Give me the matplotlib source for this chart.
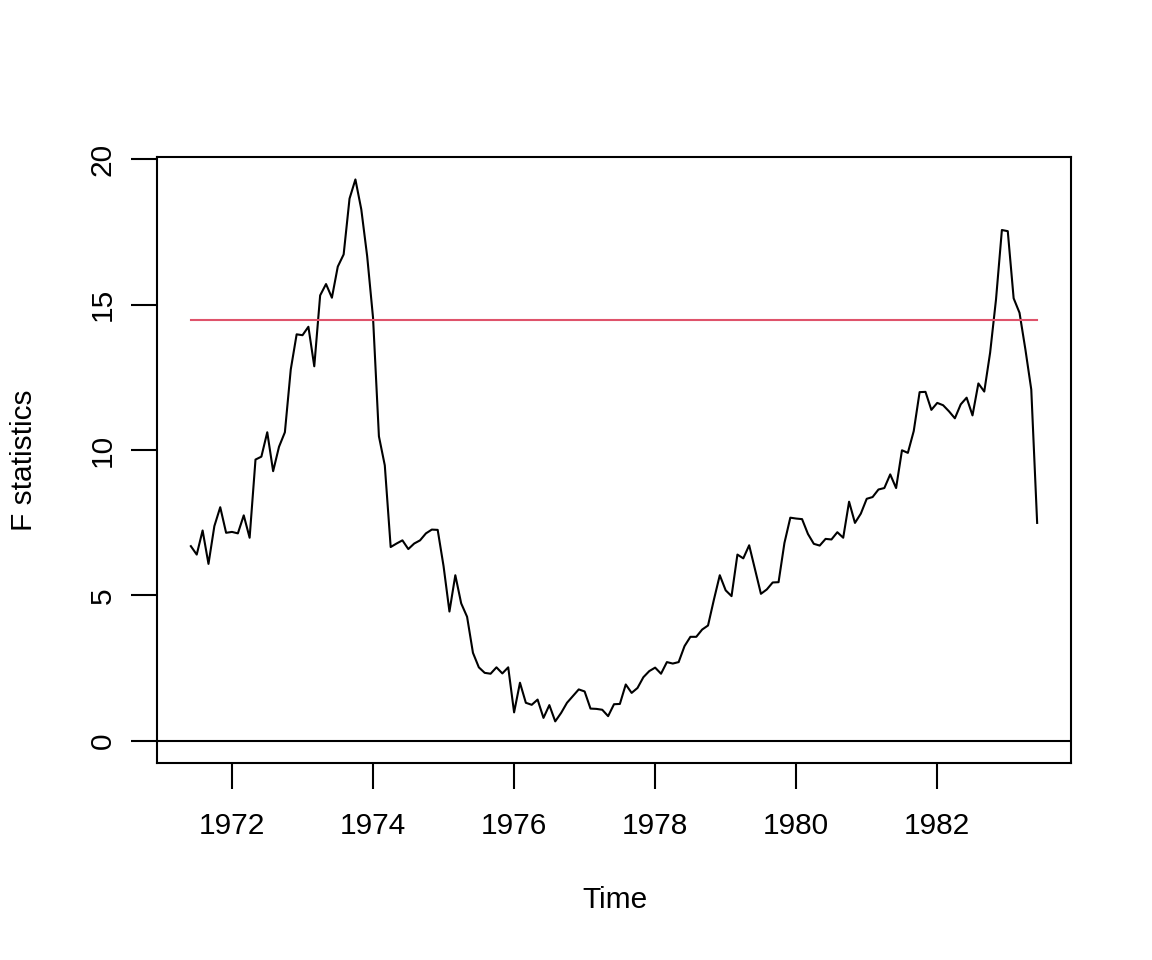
import numpy as np
import matplotlib
matplotlib.use("Agg")
import matplotlib.pyplot as plt

# monthly F statistics, starting June 1971
start_year = 1971 + 5 / 12
fstats = [
    6.69, 6.40, 7.23, 6.08, 7.38, 8.03, 7.15, 7.18, 7.13, 7.75, 6.98, 9.67,
    9.77, 10.61, 9.27, 10.11, 10.61, 12.77, 13.98, 13.95, 14.24, 12.88, 15.32, 15.71,
    15.24, 16.31, 16.73, 18.65, 19.31, 18.28, 16.67, 14.55, 10.47, 9.47, 6.66, 6.78,
    6.89, 6.59, 6.78, 6.89, 7.13, 7.26, 7.25, 6.00, 4.44, 5.69, 4.72, 4.26,
    3.02, 2.52, 2.33, 2.30, 2.52, 2.31, 2.52, 0.97, 1.99, 1.30, 1.23, 1.41,
    0.78, 1.22, 0.66, 0.95, 1.30, 1.53, 1.76, 1.69, 1.10, 1.09, 1.06, 0.84,
    1.25, 1.26, 1.93, 1.64, 1.81, 2.18, 2.39, 2.51, 2.30, 2.70, 2.65, 2.70,
    3.25, 3.57, 3.57, 3.82, 3.96, 4.85, 5.69, 5.17, 4.97, 6.40, 6.27, 6.72,
    5.89, 5.05, 5.20, 5.44, 5.45, 6.80, 7.67, 7.64, 7.62, 7.11, 6.77, 6.71,
    6.94, 6.92, 7.17, 6.98, 8.22, 7.49, 7.81, 8.32, 8.38, 8.64, 8.69, 9.16,
    8.69, 9.99, 9.90, 10.65, 11.99, 12.00, 11.38, 11.62, 11.54, 11.33, 11.09, 11.57,
    11.80, 11.19, 12.29, 12.01, 13.35, 15.18, 17.57, 17.53, 15.22, 14.72, 13.46, 12.08,
    7.49,
]
crit_value = 14.47
x_ticks = [1972, 1974, 1976, 1978, 1980, 1982]
y_ticks = [0, 5, 10, 15, 20]

plt.rcParams['font.family'] = ['Liberation Sans', 'DejaVu Sans']

t = start_year + np.arange(len(fstats)) / 12
fs = 21.5

fig = plt.figure(figsize=(11.52, 9.6), dpi=100)
ax = fig.add_axes([157 / 1152, 197 / 960, 914 / 1152, 606 / 960])

ax.plot(t, fstats, color='black', lw=1.5)
ax.plot([t[0], t[-1]], [crit_value, crit_value], color='#DF536B', lw=1.5)
ax.axhline(0, color='black', lw=1.5)

xr = t[-1] - t[0]
ax.set_xlim(t[0] - 0.04 * xr, t[-1] + 0.04 * xr)
yr = max(fstats) - 0
ax.set_ylim(0 - 0.04 * yr, max(fstats) + 0.04 * yr)

ax.set_xticks(x_ticks)
ax.set_yticks(y_ticks)
ax.set_xticklabels([str(v) for v in x_ticks], fontsize=fs)
ax.set_yticklabels([str(v) for v in y_ticks], fontsize=fs, rotation=90, va='center')
ax.tick_params(axis='x', length=19, width=1.5, pad=16)
ax.tick_params(axis='y', length=19, width=1.5, pad=10)
for s in ax.spines.values():
    s.set_linewidth(1.5)

fig.text(615 / 1152, 1 - 900 / 960, 'Time', fontsize=fs, ha='center', va='center')
fig.text(24 / 1152, 1 - 460 / 960, 'F statistics', fontsize=fs, ha='center', va='center',
         rotation=90)

fig.savefig('out.png', dpi=100)
